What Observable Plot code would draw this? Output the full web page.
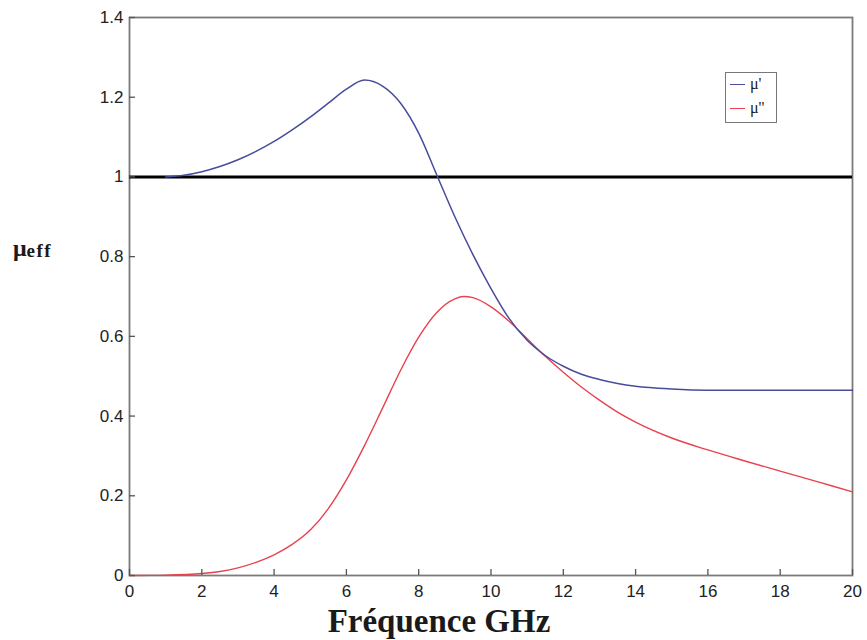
<!DOCTYPE html>
<html><head><meta charset="utf-8">
<script src="https://cdn.jsdelivr.net/npm/d3@7"></script>
<script src="https://cdn.jsdelivr.net/npm/@observablehq/plot@0.6"></script>
<style>
body{margin:0;background:#fff;}
#wrap{position:relative;width:867px;height:640px;overflow:hidden;background:#fff;}
#legend{position:absolute;left:725px;top:72px;width:50px;height:49px;border:1.5px solid #777;background:#fff;
  font-family:"Liberation Serif","Times New Roman",serif;font-size:16px;color:#222;box-sizing:content-box;}
#legend .row{position:absolute;left:4px;height:16px;display:flex;align-items:center;}
#legend .sw{width:15px;height:0;border-top:1.5px solid;margin-right:5px;}
</style></head>
<body><div id="wrap"></div>
<script>
// μ' (real part)
const freqMu1 = [1,1.5,2,2.5,3,3.5,4,4.5,5,5.5,6,6.5,7,7.5,8,8.5,9,9.5,10,10.5,11,11.5,12,12.5,13,13.5,14,15,16,17,18,19,20];
const mu1 = [1.0,1.004,1.013,1.026,1.043,1.064,1.089,1.118,1.15,1.185,1.22,1.243,1.228,1.185,1.11,1.005,0.9,0.805,0.72,0.645,0.59,0.552,0.525,0.505,0.492,0.482,0.475,0.468,0.465,0.465,0.465,0.465,0.465];
// μ'' (imaginary part)
const freqMu2 = [0,1,2,2.5,3,3.5,4,4.5,5,5.5,6,6.5,7,7.5,8,8.5,9,9.25,9.5,10,10.5,11,11.5,12,12.5,13,13.5,14,15,16,17,18,19,20];
const mu2 = [0,0.001,0.005,0.01,0.019,0.033,0.052,0.078,0.114,0.168,0.24,0.326,0.42,0.515,0.598,0.66,0.694,0.70,0.697,0.674,0.638,0.594,0.55,0.51,0.473,0.44,0.41,0.385,0.345,0.315,0.288,0.262,0.236,0.21];

const xTicks = [0,2,4,6,8,10,12,14,16,18,20];
const yTicks = [0,0.2,0.4,0.6,0.8,1,1.2,1.4];
const yTickLabels = ["0","0.2","0.4","0.6","0.8","1","1.2","1.4"];
const referenceLevel = [1];
const seriesNames = ["\u03BC'", "\u03BC''"];
const seriesColors = ["#474c9c", "#e8424e"];
const xTitle = "Fréquence GHz";
const yTitleMain = "\u03BC";
const yTitleSub = "eff";

const data1 = freqMu1.map((f, i) => ({f, v: mu1[i]}));
const data2 = freqMu2.map((f, i) => ({f, v: mu2[i]}));

const W = 867, H = 640, mL = 129, mR = 15, mT = 17, mB = 65, tickLen = 6;
const frameW = W - mL - mR, frameH = H - mT - mB;

const plot = Plot.plot({
  width: W, height: H,
  marginLeft: mL, marginRight: mR, marginTop: mT, marginBottom: mB,
  style: {fontFamily: '"Liberation Sans", Arial, sans-serif', fontSize: "17px", color: "#222", background: "#fff"},
  x: {domain: [0, 20]},
  y: {domain: [0, 1.4]},
  marks: [
    Plot.frame({stroke: "#7a7a7a", strokeWidth: 1.8}),
    Plot.ruleY(referenceLevel, {stroke: "#000", strokeWidth: 3}),
    Plot.line(data2, {x: "f", y: "v", stroke: seriesColors[1], strokeWidth: 1.4, curve: "monotone-x"}),
    Plot.line(data1, {x: "f", y: "v", stroke: seriesColors[0], strokeWidth: 1.5, curve: "monotone-x"}),
    // inward tick marks
    Plot.ruleX(xTicks, {x: d => d, insetTop: frameH - tickLen, stroke: "#555", strokeWidth: 1.3}),
    Plot.ruleY(yTicks, {y: d => d, insetRight: frameW - tickLen, stroke: "#555", strokeWidth: 1.3}),
    // tick labels
    Plot.axisX(xTicks, {tickSize: 0, tickPadding: 9, label: null}),
    Plot.axisY(yTicks, {tickSize: 0, tickPadding: 6, label: null,
      tickFormat: d => yTickLabels[yTicks.indexOf(d)]})
  ]
});

const wrap = document.getElementById("wrap");
wrap.appendChild(plot);

const svg = d3.select(plot);
svg.append("text")
  .attr("x", 439).attr("y", 632)
  .attr("text-anchor", "middle")
  .attr("font-family", '"Liberation Serif","Times New Roman",serif')
  .attr("font-weight", "bold").attr("font-size", 33).attr("fill", "#1a1a1a")
  .text(xTitle);
const yt = svg.append("text")
  .attr("x", 13).attr("y", 256)
  .attr("text-anchor", "start")
  .attr("font-family", '"Liberation Serif","Times New Roman",serif')
  .attr("font-weight", "bold").attr("fill", "#1a1a1a");
yt.append("tspan").attr("font-size", 24).text(yTitleMain);
yt.append("tspan").attr("font-size", 19).attr("dy", 1).attr("letter-spacing", 1.5).text(yTitleSub);

// legend
const lg = document.createElement("div");
lg.id = "legend";
seriesNames.forEach((name, i) => {
  const row = document.createElement("div");
  row.className = "row";
  row.style.top = (i === 0 ? 3 : 27) + "px";
  const sw = document.createElement("span");
  sw.className = "sw";
  sw.style.borderColor = seriesColors[i];
  const t = document.createElement("span");
  t.textContent = name;
  row.appendChild(sw); row.appendChild(t);
  lg.appendChild(row);
});
wrap.appendChild(lg);
</script>
</body></html>
